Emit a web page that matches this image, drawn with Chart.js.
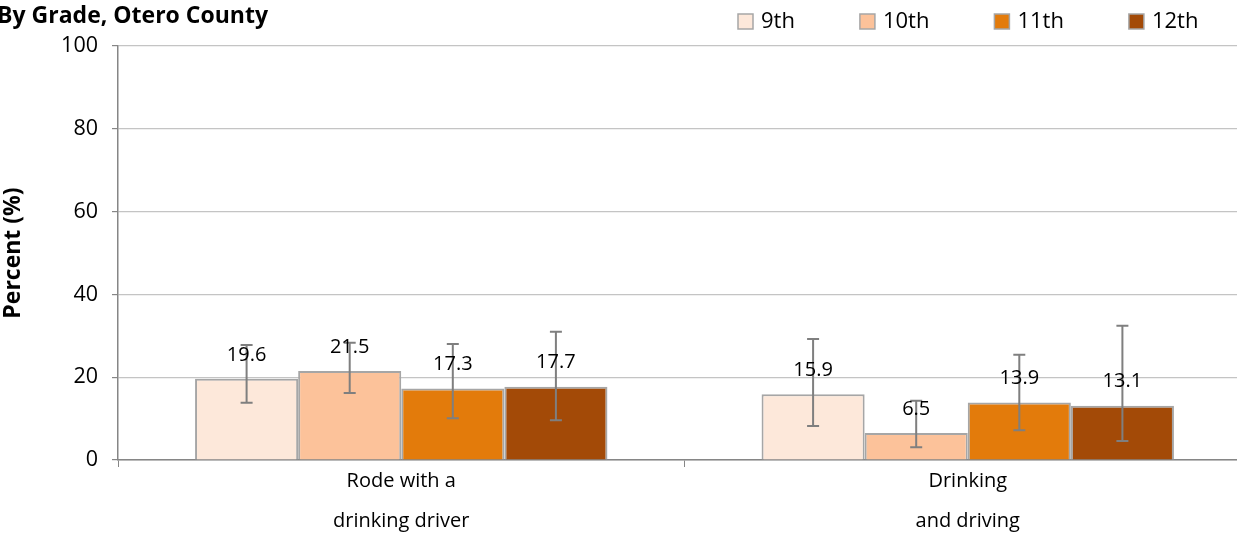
<!DOCTYPE html>
<html lang="en">
<head>
  <meta charset="UTF-8">
  <title>By Grade, Otero County</title>
  <script src="https://cdn.jsdelivr.net/npm/chart.js"></script>
  <style>
    html, body { margin: 0; padding: 0; background: #fff; overflow: hidden; }
    #wrap { width: 1237px; height: 543px; overflow: hidden; position: relative; }
    canvas { display: block; }
  </style>
</head>
<body>
  <div id="wrap"><canvas id="chart" width="1252" height="543"></canvas></div>

  <script>
    const titleText = 'By Grade, Otero County';
    const categories = [['Rode with a', 'drinking driver'], ['Drinking', 'and driving']];
    const grades = ['9th', '10th', '11th', '12th'];
    const colors = ['#FDE8DA', '#FCC29A', '#E37B0B', '#A34A07'];

    // percent by grade, one entry per category
    const grade9 = [19.6, 15.9];
    const grade10 = [21.5, 6.5];
    const grade11 = [17.3, 13.9];
    const grade12 = [17.7, 13.1];

    // confidence intervals
    const lower9 = [13.8, 8.2];
    const upper9 = [27.8, 29.2];
    const lower10 = [16.2, 3.1];
    const upper10 = [28.3, 14.3];
    const lower11 = [10.1, 7.2];
    const upper11 = [28.0, 25.4];
    const lower12 = [9.6, 4.6];
    const upper12 = [31.0, 32.4];

    const yTicks = [0, 20, 40, 60, 80, 100];

    const series = [grade9, grade10, grade11, grade12];
    const lowers = [lower9, lower10, lower11, lower12];
    const uppers = [upper9, upper10, upper11, upper12];

    const FONT = '"Open Sans", sans-serif';

    // error bars + value labels
    const barExtras = {
      id: 'barExtras',
      afterDatasetsDraw(chart) {
        const ctx = chart.ctx;
        const y = chart.scales.y;
        ctx.save();
        chart.data.datasets.forEach((ds, di) => {
          const meta = chart.getDatasetMeta(di);
          meta.data.forEach((bar, i) => {
            const yHi = y.getPixelForValue(uppers[di][i]);
            const yLo = y.getPixelForValue(lowers[di][i]);
            ctx.strokeStyle = '#7f7f7f';
            ctx.lineWidth = 2;
            ctx.beginPath();
            ctx.moveTo(bar.x, yHi); ctx.lineTo(bar.x, yLo);
            ctx.moveTo(bar.x - 6, yHi); ctx.lineTo(bar.x + 6, yHi);
            ctx.moveTo(bar.x - 6, yLo); ctx.lineTo(bar.x + 6, yLo);
            ctx.stroke();
          });
        });
        ctx.fillStyle = '#000';
        ctx.font = '20px ' + FONT;
        ctx.textAlign = 'center';
        ctx.textBaseline = 'middle';
        chart.data.datasets.forEach((ds, di) => {
          const meta = chart.getDatasetMeta(di);
          meta.data.forEach((bar, i) => {
            ctx.fillText(ds.data[i].toFixed(1), bar.x, bar.y - 24);
          });
        });
        ctx.restore();
      }
    };

    // title (cut off at the left edge like the original) and legend
    const headerBits = {
      id: 'headerBits',
      afterDraw(chart) {
        const ctx = chart.ctx;
        ctx.save();
        ctx.fillStyle = '#000';
        ctx.font = 'bold 23px ' + FONT;
        ctx.textAlign = 'right';
        ctx.textBaseline = 'middle';
        ctx.fillText(titleText, 268, 16);

        ctx.font = '22px ' + FONT;
        ctx.textAlign = 'left';
        let x = 738;
        chart.data.datasets.forEach(ds => {
          ctx.fillStyle = ds.backgroundColor;
          ctx.fillRect(x, 14, 15, 15);
          ctx.strokeStyle = '#a6a6a6';
          ctx.lineWidth = 1.5;
          ctx.strokeRect(x, 14, 15, 15);
          ctx.fillStyle = '#000';
          ctx.fillText(ds.label, x + 23, 22);
          x += 23 + ctx.measureText(ds.label).width + 65;
        });
        ctx.restore();
      }
    };

    const ctx = document.getElementById('chart').getContext('2d');
    const chart = new Chart(ctx, {
      type: 'bar',
      data: {
        labels: categories,
        datasets: grades.map((g, i) => ({
          label: g,
          data: series[i],
          backgroundColor: colors[i],
          borderColor: '#a6a6a6',
          borderWidth: 2,
          barPercentage: 1.0,
          categoryPercentage: 0.728
        }))
      },
      options: {
        responsive: false,
        animation: false,
        layout: { padding: { top: 46, right: 1, left: 0, bottom: 0 } },
        plugins: {
          legend: { display: false },
          title: { display: false },
          tooltip: { enabled: false }
        },
        scales: {
          x: {
            offset: true,
            grid: { drawOnChartArea: false, drawTicks: true, tickLength: 7, tickColor: '#868686', offset: true },
            border: { color: '#868686', width: 1.5 },
            ticks: { color: '#000', font: { family: FONT, size: 20, lineHeight: 2 }, padding: -6, maxRotation: 0 },
            afterFit(scale) { scale.height = 83; }
          },
          y: {
            min: 0,
            max: 100,
            afterBuildTicks(scale) { scale.ticks = yTicks.map(v => ({ value: v })); },
            grid: { color: '#c4c4c4', lineWidth: 1.2, tickLength: 6, tickColor: '#868686' },
            border: { color: '#868686', width: 1.5 },
            ticks: { color: '#000', font: { family: FONT, size: 21.5 }, padding: 14 },
            title: { display: true, text: 'Percent (%)', color: '#000', font: { family: FONT, size: 23, weight: 'bold' }, padding: 0 },
            afterFit(scale) { scale.width = 118; }
          }
        }
      },
      plugins: [barExtras, headerBits]
    });
  </script>
</body>
</html>
